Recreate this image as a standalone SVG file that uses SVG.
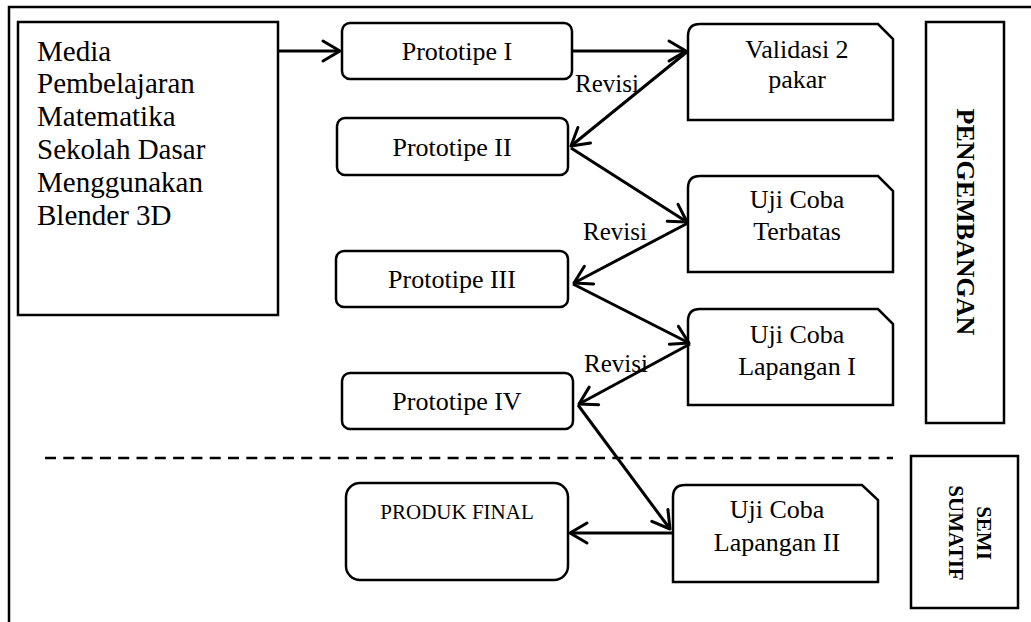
<svg xmlns="http://www.w3.org/2000/svg" width="1031" height="622" viewBox="0 0 1031 622">
<style>
.box{fill:#fff;stroke:#000;stroke-width:2.5}
.t{font-family:'Liberation Serif','Times New Roman',serif;fill:#000}
.c{text-anchor:middle}
.b{font-weight:bold}
.ln{fill:none;stroke:#000;stroke-width:3;marker-end:url(#ah)}
</style>
<defs>
<marker id="ah" markerUnits="userSpaceOnUse" markerWidth="40" markerHeight="40" refX="0" refY="0" orient="auto" overflow="visible">
<path d="M-17,-10 L0,0 L-17,10" fill="none" stroke="#000" stroke-width="3" stroke-linecap="round" stroke-linejoin="round"/>
</marker>
</defs>
<rect width="1031" height="622" fill="#fff"/>
<g id="frame">
<path d="M9,622 L9,7 L1031,7" fill="none" stroke="#000" stroke-width="2.5"/>
<line x1="45" y1="458" x2="893" y2="458" stroke="#000" stroke-width="2.5" stroke-dasharray="11 7.3"/>
</g>
<g id="media">
<rect class="box" x="18" y="22" width="260" height="293"/>
<text class="t" font-size="29" x="37" y="61">Media</text>
<text class="t" font-size="29" x="37" y="93">Pembelajaran</text>
<text class="t" font-size="29" x="37" y="126">Matematika</text>
<text class="t" font-size="29" x="37" y="159">Sekolah Dasar</text>
<text class="t" font-size="29" x="37" y="192">Menggunakan</text>
<text class="t" font-size="29" x="37" y="225">Blender 3D</text>
</g>
<g id="p1">
<rect class="box" x="342" y="23" width="230" height="56" rx="8"/>
<text class="t c" font-size="26" x="457" y="60">Prototipe I</text>
</g>
<g id="p2">
<rect class="box" x="337" y="118" width="231" height="57" rx="8"/>
<text class="t c" font-size="26" x="452" y="156">Prototipe II</text>
</g>
<g id="p3">
<rect class="box" x="336" y="251" width="232" height="56" rx="8"/>
<text class="t c" font-size="26" x="452" y="288">Prototipe III</text>
</g>
<g id="p4">
<rect class="box" x="342" y="373" width="231" height="56" rx="8"/>
<text class="t c" font-size="26" x="457" y="410">Prototipe IV</text>
</g>
<g id="final">
<rect class="box" x="346" y="483" width="222" height="97" rx="14"/>
<text class="t c" font-size="21" x="457" y="519">PRODUK FINAL</text>
</g>
<g id="validasi">
<path class="box" d="M688,120 L688,36 Q688,24 700,24 L878,24 L893,39 L893,120 Z"/>
<text class="t c" font-size="26" x="797" y="58">Validasi 2</text>
<text class="t c" font-size="26" x="797" y="88">pakar</text>
</g>
<g id="terbatas">
<path class="box" d="M688,272 L688,188 Q688,176 700,176 L878,176 L893,191 L893,272 Z"/>
<text class="t c" font-size="26" x="797" y="208">Uji Coba</text>
<text class="t c" font-size="26" x="797" y="240">Terbatas</text>
</g>
<g id="lapangan1">
<path class="box" d="M688,405 L688,321 Q688,309 700,309 L878,309 L893,324 L893,405 Z"/>
<text class="t c" font-size="26" x="797" y="343">Uji Coba</text>
<text class="t c" font-size="26" x="797" y="375">Lapangan I</text>
</g>
<g id="lapangan2">
<path class="box" d="M673,582 L673,497 Q673,485 685,485 L862,485 L878,500 L878,582 Z"/>
<text class="t c" font-size="26" x="777" y="518">Uji Coba</text>
<text class="t c" font-size="26" x="777" y="551">Lapangan II</text>
</g>
<g id="pengembangan">
<rect class="box" x="926" y="22" width="78" height="401"/>
<text class="t c b" font-size="26" transform="translate(957,222) rotate(90)">PENGEMBANGAN</text>
</g>
<g id="semisumatif">
<rect class="box" x="911" y="456" width="107" height="152"/>
<text class="t c b" font-size="21" transform="translate(977,533) rotate(90)">SEMI</text>
<text class="t c b" font-size="21" transform="translate(949,533) rotate(90)">SUMATIF</text>
</g>
<g id="connectors">
<line class="ln" x1="278" y1="51" x2="340" y2="51"/>
<line class="ln" x1="572" y1="51" x2="686" y2="51"/>
<line class="ln" x1="688" y1="51" x2="571" y2="146"/>
<line class="ln" x1="571" y1="148" x2="687" y2="222"/>
<line class="ln" x1="688" y1="223" x2="574" y2="283"/>
<line class="ln" x1="573" y1="284" x2="689" y2="343"/>
<line class="ln" x1="690" y1="344" x2="579" y2="404"/>
<line class="ln" x1="578" y1="405" x2="670" y2="529"/>
<line class="ln" x1="673" y1="533" x2="570" y2="533"/>
</g>
<g id="labels">
<text class="t" font-size="25" x="575" y="92">Revisi</text>
<text class="t" font-size="25" x="583" y="240">Revisi</text>
<text class="t" font-size="25" x="584" y="372">Revisi</text>
</g>
</svg>
